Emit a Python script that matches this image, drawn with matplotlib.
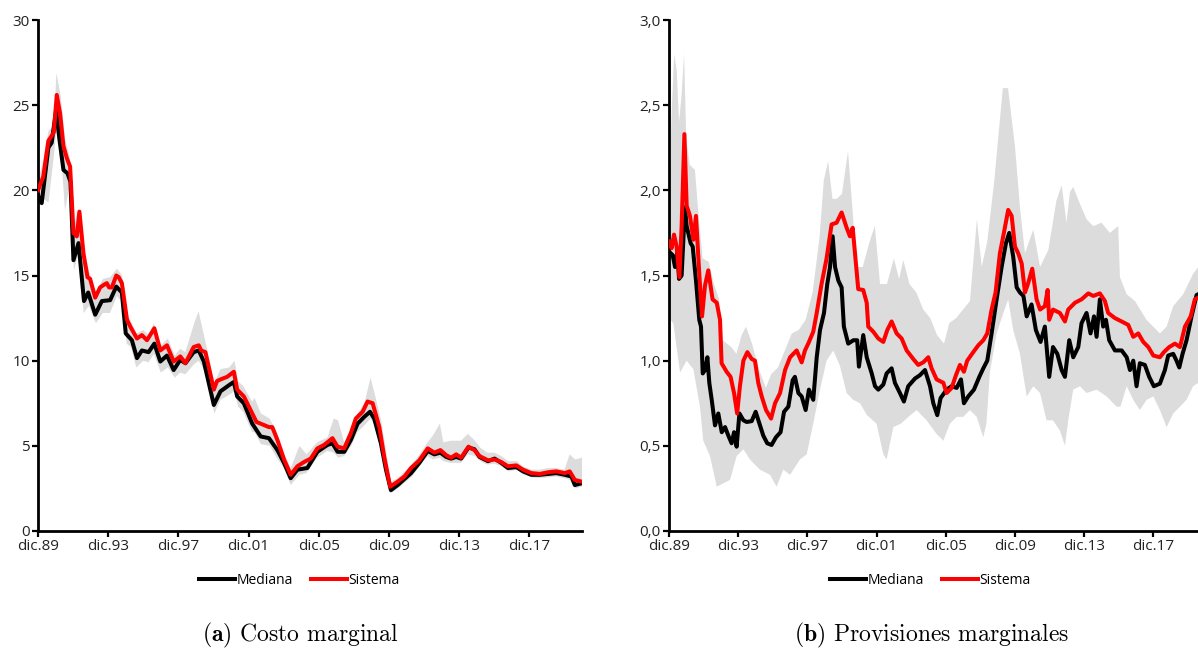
import matplotlib
matplotlib.use('Agg')
import matplotlib.pyplot as plt
import numpy as np

plt.rcParams['font.family'] = ['Open Sans', 'DejaVu Sans']
plt.rcParams['mathtext.fontset'] = 'cm'

# fechas en años desde dic.89
tick_pos = [0, 4, 8, 12, 16, 20, 24, 28]
tick_lab = ['dic.89', 'dic.93', 'dic.97', 'dic.01', 'dic.05', 'dic.09', 'dic.13', 'dic.17']

# (a) Costo marginal
cm_sis_t = [0.0, 0.3, 0.59, 0.78, 0.9, 1.07, 1.26, 1.45, 1.64, 1.83, 2.02, 2.21, 2.36, 2.59, 2.82,
            2.97, 3.26, 3.54, 3.75, 3.92, 4.05, 4.21, 4.46, 4.6, 4.78, 5.07, 5.26, 5.64, 5.92, 6.21,
            6.63, 6.97, 7.35, 7.73, 8.11, 8.4, 8.87, 9.16, 9.3, 9.54, 10.02, 10.2, 10.4, 10.78, 11.16,
            11.35, 11.73, 12.21, 12.45, 12.69, 13.16, 13.35, 13.64, 14.02, 14.4, 14.78, 15.16, 15.54,
            15.92, 16.3, 16.78, 17.07, 17.45, 17.83, 18.11, 18.5, 18.78, 19.07, 19.45, 19.73, 20.07,
            20.5, 20.88, 21.26, 21.73, 22.21, 22.59, 22.93, 23.26, 23.54, 23.83, 24.11, 24.53, 24.87,
            25.16, 25.64, 26.02, 26.4, 26.78, 27.26, 27.64, 28.11, 28.59, 29.07, 29.54, 30.02, 30.3,
            30.59, 30.97]
cm_sis = [20.0, 20.8, 22.9, 23.2, 23.4, 25.6, 24.5, 22.6, 21.9, 21.4, 17.5, 17.3, 18.75, 16.3, 14.9,
          14.8, 13.7, 14.3, 14.45, 14.55, 14.3, 14.3, 15.0, 14.9, 14.55, 12.4, 12.0, 11.3, 11.5, 11.2,
          11.9, 10.6, 10.9, 9.95, 10.25, 9.85, 10.8, 10.9, 10.6, 10.5, 8.3, 8.8, 8.9, 9.05, 9.35,
          8.3, 7.9, 6.9, 6.4, 6.3, 6.1, 6.1, 5.35, 4.2, 3.3, 3.8, 4.05, 4.25,
          4.85, 5.05, 5.45, 4.95, 4.85, 5.75, 6.6, 7.0, 7.6, 7.5, 6.1, 4.35, 2.6,
          2.9, 3.2, 3.7, 4.15, 4.85, 4.6, 4.75, 4.45, 4.3, 4.5, 4.3, 4.95, 4.75,
          4.4, 4.15, 4.2, 4.05, 3.8, 3.85, 3.6, 3.4, 3.35, 3.45, 3.5, 3.4, 3.5,
          3.0, 2.9]

cm_med_t = [0.0, 0.21, 0.59, 0.78, 1.03, 1.22, 1.45, 1.68, 1.85, 2.02, 2.31, 2.62, 2.86, 3.26, 3.64,
            4.11, 4.46, 4.78, 5.0, 5.35, 5.64, 5.92, 6.3, 6.63, 6.97, 7.35, 7.73, 8.11, 8.4, 8.87,
            9.16, 9.45, 10.02, 10.4, 10.87, 11.16, 11.35, 11.73, 12.21, 12.69, 13.16, 13.64, 14.02,
            14.4, 14.78, 15.35, 15.92, 16.49, 16.78, 17.07, 17.45, 17.83, 18.21, 18.59, 18.92, 19.16,
            19.54, 19.83, 20.11, 20.5, 21.26, 21.73, 22.21, 22.59, 22.93, 23.26, 23.54, 23.83, 24.11,
            24.53, 24.87, 25.16, 25.64, 26.02, 26.4, 26.78, 27.26, 27.64, 28.11, 28.59, 29.07, 29.54,
            30.02, 30.4, 30.59, 30.97]
cm_med = [19.7, 19.25, 22.5, 22.8, 24.7, 23.0, 21.2, 21.0, 20.5, 15.9, 16.9, 13.5, 14.0, 12.7, 13.5,
          13.55, 14.35, 14.0, 11.6, 11.2, 10.15, 10.6, 10.5, 11.0, 9.95, 10.3, 9.45, 10.05, 9.85, 10.5,
          10.6, 9.95, 7.4, 8.2, 8.55, 8.75, 7.9, 7.5, 6.3, 5.55, 5.45, 4.75, 4.0,
          3.1, 3.6, 3.7, 4.65, 5.05, 5.15, 4.65, 4.65, 5.35, 6.3, 6.7, 7.0, 6.6,
          5.15, 3.6, 2.4, 2.7, 3.4, 4.0, 4.7, 4.5, 4.6, 4.35, 4.25, 4.35, 4.25,
          4.9, 4.8, 4.35, 4.1, 4.25, 4.0, 3.7, 3.75, 3.5, 3.3, 3.3, 3.35, 3.4,
          3.3, 3.2, 2.7, 2.8]

cm_band_t = [0, 0.3, 0.6, 0.9, 1.05, 1.3, 1.54, 1.8, 2.05, 2.3, 2.6, 2.9, 3.3, 3.7, 4.1, 4.5, 4.8,
             5.05, 5.3, 5.6, 6.0, 6.3, 6.6, 7.0, 7.4, 7.8, 8.1, 8.4, 8.9, 9.15, 9.5, 10.05, 10.4,
             10.9, 11.2, 11.4, 11.7, 12.2, 12.35, 12.7, 13.2, 13.6, 14.0, 14.4, 14.9, 15.3, 15.9,
             16.5, 16.85, 17.1, 17.45, 17.85, 18.2, 18.6, 18.95, 19.2, 19.55, 19.85, 20.1, 20.5,
             21.3, 21.75, 22.2, 22.5, 22.9, 23.1, 23.5, 24.1, 24.5, 24.9, 25.2, 25.6, 26.0, 26.4,
             26.8, 27.3, 27.6, 28.1, 28.6, 29.1, 29.5, 30.0, 30.3, 30.6, 31.0]
cm_lo = [19.0, 19.5, 19.3, 22.0, 23.5, 22.3, 18.8, 20.3, 15.3, 16.3, 12.8, 13.2, 12.2, 12.8, 12.8,
         13.8, 13.4, 11.0, 10.8, 9.6, 10.0, 9.9, 10.4, 9.3, 9.6, 9.0, 9.3, 9.2, 9.8, 10.0, 9.4, 6.9,
         7.7, 8.0, 8.2, 7.3, 7.0, 5.8, 5.8, 5.1, 5.0, 4.3, 3.7, 2.7, 3.3, 3.4, 4.3, 4.7, 4.6, 4.3,
         4.4, 5.0, 5.8, 6.2, 6.6, 6.2, 4.7, 3.3, 2.2, 2.5, 3.2, 3.8, 4.4, 4.2, 4.3, 4.1, 4.0, 4.0,
         4.5, 4.4, 4.1, 3.9, 3.95, 3.8, 3.5, 3.6, 3.35, 3.15, 3.1, 3.15, 3.2, 3.1, 3.0, 2.5, 2.6]
cm_hi = [20.5, 21.8, 23.5, 23.8, 26.9, 25.5, 23.0, 22.0, 18.0, 18.9, 16.5, 15.3, 14.0, 14.8, 14.9,
         15.4, 15.0, 12.8, 12.3, 11.6, 11.8, 11.5, 12.2, 10.9, 11.3, 10.3, 10.7, 10.5, 12.2, 12.9,
         11.3, 8.7, 9.5, 9.6, 10.0, 8.8, 8.5, 7.6, 7.8, 6.9, 6.6, 5.8, 4.6, 3.7, 5.0, 4.5, 5.2, 5.5,
         6.6, 6.5, 5.2, 6.0, 6.9, 7.5, 9.0, 8.0, 6.5, 4.6, 2.9, 3.1, 3.9, 4.5, 5.2, 5.6, 6.3, 5.2,
         5.3, 5.3, 5.7, 5.3, 4.9, 4.6, 4.6, 4.4, 4.1, 4.1, 3.8, 3.6, 3.6, 3.7, 3.7, 3.6, 4.5, 4.2, 4.3]

# (b) Provisiones marginales
pm_sis_t = [0.0, 0.15, 0.29, 0.44, 0.6, 0.73, 0.89, 1.02, 1.21, 1.41, 1.56, 1.75, 1.91, 2.08, 2.27,
            2.52, 2.76, 2.95, 3.04, 3.33, 3.56, 3.76, 3.94, 4.1, 4.3, 4.53, 4.78, 4.97, 5.16, 5.36,
            5.61, 5.9, 6.13, 6.42, 6.71, 7.0, 7.38, 7.67, 7.86, 8.05, 8.34, 8.54, 8.82, 9.11, 9.4,
            9.69, 9.98, 10.27, 10.46, 10.62, 10.94, 11.23, 11.43, 11.52, 11.81, 12.1, 12.39, 12.62,
            12.87, 13.16, 13.45, 13.74, 14.12, 14.41, 14.7, 14.99, 15.18, 15.47, 15.86, 16.05, 16.34,
            16.59, 16.82, 17.05, 17.24, 17.59, 17.88, 18.17, 18.4, 18.65, 18.88, 19.13, 19.36, 19.61,
            19.81, 20.0, 20.19, 20.39, 20.58, 20.75, 21.0, 21.25, 21.45, 21.73, 21.89, 21.98, 22.2,
            22.6, 22.89, 23.08, 23.47, 23.85, 24.24, 24.53, 24.91, 25.2, 25.39, 25.78, 26.17, 26.55,
            26.84, 27.13, 27.42, 27.71, 28.0, 28.38, 28.61, 28.92, 29.25, 29.54, 29.83, 30.16, 30.4,
            30.8, 31.0]
pm_sis = [1.70, 1.66, 1.74, 1.67, 1.49, 1.79, 2.33, 1.91, 1.85, 1.71, 1.85, 1.51, 1.26, 1.44, 1.53,
          1.36, 1.34, 1.24, 0.985, 0.935, 0.905, 0.81, 0.69, 0.85, 1.0, 1.05, 1.01, 1.0, 0.87, 0.79,
          0.71, 0.66, 0.75, 0.81, 0.945, 1.02, 1.06, 0.99, 1.06, 1.10, 1.17, 1.28, 1.45, 1.60, 1.80,
          1.81, 1.87, 1.78, 1.73, 1.78, 1.42, 1.415, 1.34, 1.20, 1.17, 1.13, 1.11, 1.18,
          1.23, 1.16, 1.13, 1.06, 1.01, 0.975, 0.99, 1.02, 0.955, 0.89, 0.87, 0.81, 0.84,
          0.915, 0.975, 0.935, 1.0, 1.05, 1.09, 1.12, 1.16, 1.30, 1.40, 1.63, 1.75, 1.885,
          1.85, 1.67, 1.63, 1.57, 1.40, 1.45, 1.54, 1.36, 1.30, 1.32, 1.415, 1.24, 1.30,
          1.28, 1.23, 1.30, 1.34, 1.36, 1.395, 1.38, 1.395, 1.35, 1.28, 1.25, 1.23, 1.21,
          1.14, 1.16, 1.11, 1.08, 1.03, 1.02, 1.05, 1.08, 1.10, 1.08, 1.20, 1.26, 1.36,
          1.38, 1.40]

pm_med_t = [0.0, 0.21, 0.35, 0.48, 0.58, 0.73, 0.92, 1.02, 1.25, 1.37, 1.56, 1.75, 1.85, 1.95, 2.08,
            2.22, 2.33, 2.47, 2.66, 2.85, 3.05, 3.24, 3.43, 3.62, 3.76, 3.91, 4.07, 4.3, 4.49, 4.78,
            5.01, 5.2, 5.45, 5.68, 5.93, 6.18, 6.45, 6.65, 6.9, 7.15, 7.28, 7.48, 7.67, 7.9, 8.09,
            8.34, 8.54, 8.73, 8.96, 9.15, 9.31, 9.46, 9.6, 9.79, 9.98, 10.11, 10.36, 10.66, 10.88,
            10.98, 11.23, 11.43, 11.72, 11.91, 12.1, 12.39, 12.58, 12.87, 13.06, 13.35, 13.58, 13.83,
            14.22, 14.51, 14.8, 15.09, 15.28, 15.51, 15.7, 16.05, 16.34, 16.63, 16.88, 17.05, 17.3,
            17.63, 17.94, 18.17, 18.4, 18.65, 18.94, 19.23, 19.48, 19.67, 19.9, 20.1, 20.29, 20.49,
            20.68, 20.96, 21.21, 21.48, 21.73, 21.98, 22.2, 22.45, 22.7, 22.89, 23.14, 23.37, 23.66,
            23.85, 24.14, 24.37, 24.57, 24.72, 24.91, 25.1, 25.26, 25.45, 25.78, 26.17, 26.46, 26.65,
            26.84, 27.03, 27.22, 27.51, 27.76, 28.03, 28.38, 28.67, 28.86, 29.15, 29.34, 29.5, 29.69,
            29.92, 30.21, 30.5, 30.8, 31.0]
pm_med = [1.64, 1.62, 1.55, 1.64, 1.48, 1.50, 1.90, 1.79, 1.69, 1.67, 1.47, 1.24, 1.20, 0.925, 0.945,
          1.02, 0.87, 0.77, 0.62, 0.69, 0.58, 0.61, 0.56, 0.515, 0.58, 0.495, 0.69, 0.65, 0.64, 0.645,
          0.70, 0.64, 0.56, 0.515, 0.505, 0.55, 0.58, 0.70, 0.73, 0.885, 0.905, 0.81, 0.79, 0.71, 0.83,
          0.77, 1.02, 1.18, 1.28, 1.45, 1.55, 1.73, 1.55, 1.47, 1.43, 1.20, 1.10, 1.12, 1.12,
          0.965, 1.15, 1.02, 0.925, 0.85, 0.83, 0.86, 0.925, 0.955, 0.87, 0.81, 0.76, 0.85,
          0.895, 0.915, 0.945, 0.85, 0.75, 0.68, 0.78, 0.83, 0.85, 0.84, 0.89, 0.75, 0.79,
          0.83, 0.905, 0.955, 1.0, 1.16, 1.36, 1.55, 1.69, 1.75, 1.61, 1.43, 1.40, 1.38,
          1.26, 1.33, 1.18, 1.11, 1.20, 0.905, 1.08, 1.04, 0.945, 0.905, 1.12, 1.02, 1.08,
          1.22, 1.28, 1.16, 1.26, 1.14, 1.36, 1.20, 1.24, 1.12, 1.06, 1.06, 1.02, 0.945,
          1.0, 0.85, 0.985, 0.975, 0.905, 0.85, 0.865, 0.945, 1.03, 1.04, 1.0, 0.96, 1.04,
          1.12, 1.26, 1.385, 1.40, 1.42]

pm_hi_t = [0.0, 0.15, 0.3, 0.45, 0.58, 0.72, 0.87, 1.0, 1.2, 1.5, 1.75, 1.95, 2.3, 2.6, 2.9, 3.1,
           3.6, 3.9, 4.2, 4.45, 4.8, 5.2, 5.6, 5.9, 6.3, 6.7, 7.1, 7.5, 7.9, 8.3, 8.7, 8.95, 9.2,
           9.45, 9.7, 10.0, 10.35, 10.6, 10.85, 11.2, 11.6, 11.9, 12.2, 12.6, 13.0, 13.3, 13.55,
           13.9, 14.3, 14.7, 15.1, 15.5, 15.9, 16.2, 16.6, 17.0, 17.4, 17.8, 18.08, 18.4, 18.8,
           19.3, 19.6, 20.0, 20.29, 20.58, 21.06, 21.45, 21.93, 22.22, 22.4, 22.7, 22.98, 23.18,
           23.37, 23.76, 24.14, 24.53, 25.0, 25.49, 25.97, 26.07, 26.46, 26.94, 27.6, 28.38, 28.77,
           29.15, 29.73, 30.3, 30.6, 31.0]
pm_hi = [1.85, 2.45, 2.80, 2.70, 2.40, 2.55, 2.80, 2.30, 2.15, 2.12, 1.80, 1.60, 1.58, 1.45, 1.36,
         1.12, 1.08, 1.04, 1.15, 1.20, 1.10, 0.95, 0.84, 0.92, 0.96, 1.06, 1.16, 1.18, 1.24, 1.40,
         1.72, 2.06, 2.17, 1.95, 1.95, 1.98, 2.23, 1.90, 1.55, 1.55, 1.70, 1.79, 1.45, 1.45, 1.60,
         1.48, 1.59, 1.45, 1.40, 1.30, 1.25, 1.15, 1.10, 1.22, 1.25, 1.30, 1.35, 1.83, 1.55, 1.70,
         2.05, 2.60, 2.60, 2.26, 1.90, 1.63, 1.77, 1.55, 1.65, 1.83, 1.94, 2.03, 1.81, 1.99,
         2.02, 1.92, 1.83, 1.79, 1.81, 1.75, 1.79, 1.49, 1.39, 1.35, 1.24, 1.16, 1.20,
         1.32, 1.39, 1.51, 1.55, 1.60]

pm_lo_t = [0.0, 0.25, 0.64, 1.02, 1.41, 1.79, 1.98, 2.37, 2.76, 3.14, 3.53, 3.91, 4.3, 4.68, 5.26,
           5.84, 6.22, 6.61, 7.0, 7.57, 7.96, 8.34, 8.73, 9.11, 9.5, 9.88, 10.27, 10.65, 11.04,
           11.45, 12.0, 12.39, 12.58, 12.97, 13.4, 13.84, 14.32, 14.89, 15.47, 15.86, 16.24, 16.63,
           17.01, 17.4, 17.79, 18.17, 18.35, 18.55, 18.94, 19.33, 19.61, 19.9, 20.29, 20.68, 21.06,
           21.45, 21.83, 22.2, 22.6, 22.89, 23.08, 23.37, 23.76, 24.14, 24.72, 25.3, 25.88, 26.1,
           26.46, 26.84, 27.22, 27.61, 28.0, 28.38, 28.77, 29.15, 29.54, 29.92, 30.3, 30.6, 31.0]
pm_lo = [1.25, 1.22, 0.93, 1.00, 0.95, 0.73, 0.53, 0.44, 0.26, 0.28, 0.30, 0.44, 0.48, 0.42, 0.36,
         0.33, 0.26, 0.36, 0.33, 0.42, 0.45, 0.63, 0.83, 1.00, 1.06, 0.97, 0.81, 0.77, 0.75,
         0.68, 0.63, 0.45, 0.42, 0.61, 0.63, 0.67, 0.71, 0.65, 0.57, 0.53, 0.63, 0.67,
         0.67, 0.71, 0.67, 0.55, 0.63, 0.93, 1.16, 1.28, 1.36, 1.18, 1.04, 0.79, 0.85,
         0.81, 0.65, 0.65, 0.59, 0.50, 0.65, 0.83, 0.85, 0.81, 0.83, 0.79, 0.73, 0.73,
         0.85, 0.77, 0.71, 0.77, 0.79, 0.71, 0.61, 0.69, 0.73, 0.77, 0.85, 0.87, 0.88]


def panel(ax, hi_t, hi, lo_t, lo, med_t, med, sis_t, sis, xmax, yticks, ylabels):
    ax.fill(np.concatenate([hi_t, lo_t[::-1]]), np.concatenate([hi, lo[::-1]]),
            color='#dcdcdc', lw=0, zorder=1)
    ax.plot(med_t, med, color='black', lw=2.9, label='Mediana', zorder=2)
    ax.plot(sis_t, sis, color='red', lw=2.9, label='Sistema', zorder=3)
    ax.set_xlim(0, xmax)
    ax.set_ylim(yticks[0], yticks[-1])
    ax.set_xticks(tick_pos)
    ax.set_xticklabels(tick_lab)
    ax.set_yticks(yticks)
    ax.set_yticklabels(ylabels)
    for s in ['top', 'right']:
        ax.spines[s].set_visible(False)
    for s in ['left', 'bottom']:
        ax.spines[s].set_linewidth(2.0)
    ax.tick_params(direction='out', length=4, width=1.6, labelsize=11, pad=2,
                   colors='black', labelcolor='#222222')
    ax.legend(loc='center', bbox_to_anchor=(0.48, -0.096), ncol=2, frameon=False,
              fontsize=10, handlelength=2.6, handletextpad=0.1, columnspacing=1.3)


fig = plt.figure(figsize=(11.98, 6.48), dpi=100)
ax1 = fig.add_axes([38 / 1198, 117 / 648, 544 / 1198, 511 / 648])
ax2 = fig.add_axes([669 / 1198, 117 / 648, 544 / 1198, 511 / 648])

panel(ax1, np.array(cm_band_t), np.array(cm_hi), np.array(cm_band_t), np.array(cm_lo),
      cm_med_t, cm_med, cm_sis_t, cm_sis, 31.0,
      [0, 5, 10, 15, 20, 25, 30], ['0', '5', '10', '15', '20', '25', '30'])
panel(ax2, np.array(pm_hi_t), np.array(pm_hi), np.array(pm_lo_t), np.array(pm_lo),
      pm_med_t, pm_med, pm_sis_t, pm_sis, 31.45,
      [0, 0.5, 1.0, 1.5, 2.0, 2.5, 3.0], ['0,0', '0,5', '1,0', '1,5', '2,0', '2,5', '3,0'])

fig.text(300 / 1198, 1 - 635 / 648, r'$\mathbf{(a)}$ Costo marginal', family='cmr10',
         fontsize=17, ha='center', va='center')
fig.text(932 / 1198, 1 - 635 / 648, r'$\mathbf{(b)}$ Provisiones marginales', family='cmr10',
         fontsize=17, ha='center', va='center')

fig.savefig('out.png', dpi=100)
plt.close('all')
